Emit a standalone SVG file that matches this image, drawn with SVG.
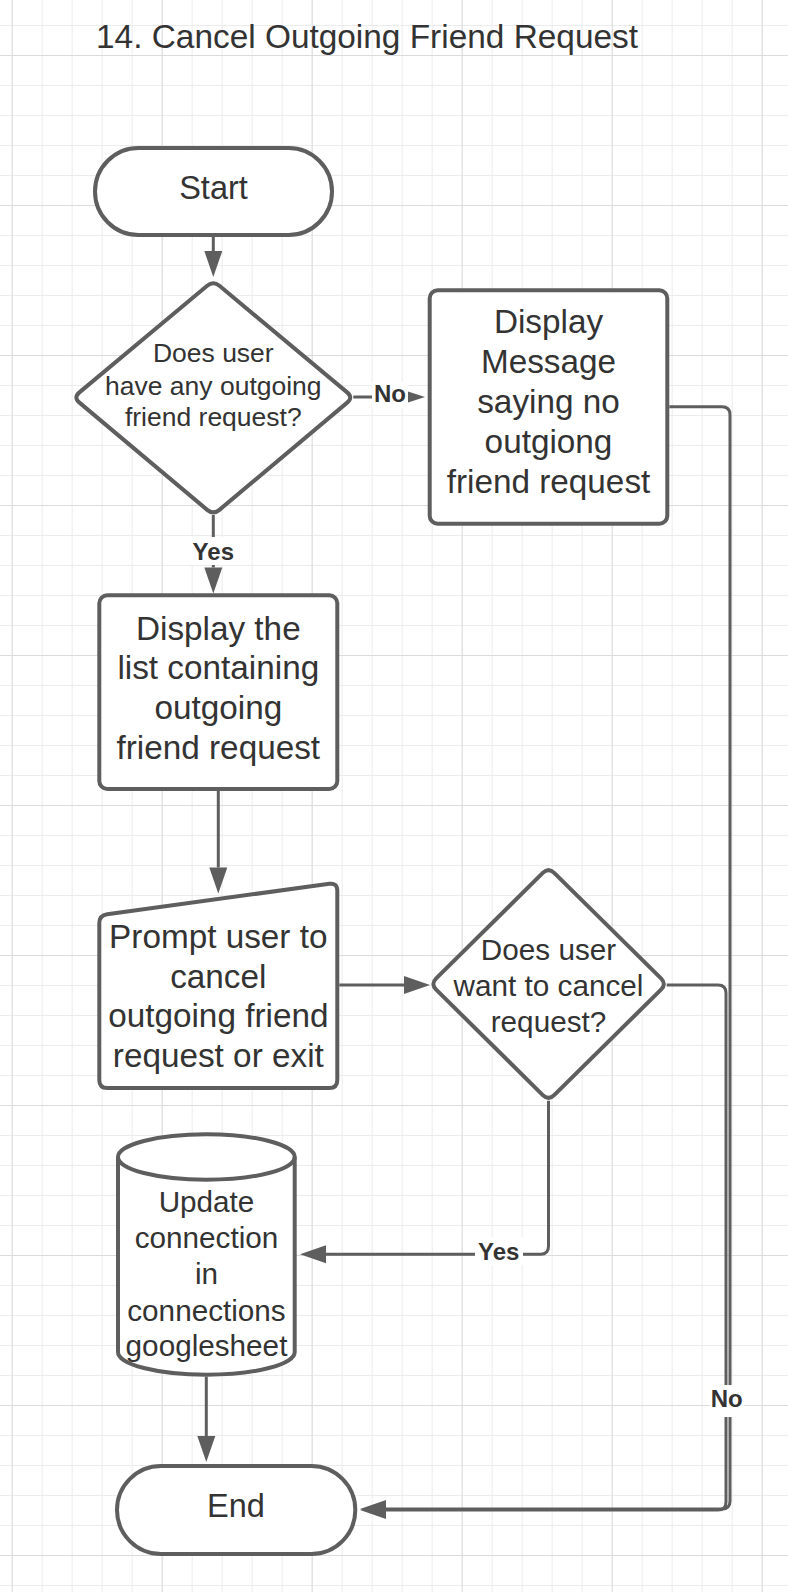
<svg xmlns="http://www.w3.org/2000/svg" width="788" height="1592" viewBox="0 0 788 1592">
<style>
.shape{fill:#ffffff;stroke:#5e5e5e;stroke-width:4;stroke-linejoin:round}
.conn{fill:none;stroke:#5e5e5e;stroke-width:3}
.t{font-family:"Liberation Sans",Arial,sans-serif;fill:#333333;text-anchor:middle}
.lbl{font-family:"Liberation Sans",Arial,sans-serif;font-weight:bold;font-size:24px;fill:#333333;text-anchor:middle}
.lblbg{fill:#ffffff}
</style>
<defs>
<pattern id="minor" patternUnits="userSpaceOnUse" x="11.7" y="25" width="30" height="30">
<path d="M0.5,0 V30 M0,0.5 H30" fill="none" stroke="#ececec" stroke-width="1"/>
</pattern>
<pattern id="major" patternUnits="userSpaceOnUse" x="11.7" y="55" width="150" height="150">
<path d="M0.5,0 V150 M0,0.5 H150" fill="none" stroke="#dcdcdc" stroke-width="1"/>
</pattern>
<marker id="big" markerUnits="userSpaceOnUse" markerWidth="26" markerHeight="18" refX="0" refY="9" orient="auto" overflow="visible">
<path d="M0,0 L26,9 L0,18 Z" fill="#5e5e5e"/>
</marker>
<marker id="small" markerUnits="userSpaceOnUse" markerWidth="17" markerHeight="11" refX="0" refY="5.5" orient="auto" overflow="visible">
<path d="M0,0 L17,5.5 L0,11 Z" fill="#5e5e5e"/>
</marker>
</defs>
<rect width="788" height="1592" fill="#ffffff"/>
<rect width="788" height="1592" fill="url(#minor)"/>
<rect width="788" height="1592" fill="url(#major)"/>

<text x="96" y="48" class="t" style="text-anchor:start;font-size:33.4px">14. Cancel Outgoing Friend Request</text>

<g id="connectors">
<path class="conn" d="M213.3,236.7 L213.3,251" marker-end="url(#big)"/>
<path class="conn" d="M353.3,397 L408,397" marker-end="url(#small)"/>
<path class="conn" d="M213.3,515 L213.3,567.5" marker-end="url(#big)"/>
<path class="conn" d="M218.3,791 L218.3,867.5" marker-end="url(#big)"/>
<path class="conn" d="M339.3,985 L404,985" marker-end="url(#big)"/>
<path class="conn" d="M548.5,1100.7 L548.5,1246.3 Q548.5,1254.3 540.5,1254.3 L326,1254.3" marker-end="url(#big)"/>
<path class="conn" d="M669.3,406.7 L722,406.7 Q730,406.7 730,414.7 L730,1501 Q730,1509 722,1509 L386,1509" marker-end="url(#big)"/>
<path class="conn" d="M666.7,985 L718,985 Q726,985 726,993 L726,1502 Q726,1510 718,1510 L386,1510" marker-end="url(#big)"/>
<path class="conn" d="M206.3,1376.7 L206.3,1436" marker-end="url(#big)"/>
<rect class="lblbg" x="372" y="382" width="36" height="26"/>
<text class="lbl" x="390" y="402">No</text>
<rect class="lblbg" x="189" y="537" width="49" height="28"/>
<text class="lbl" x="213.3" y="560">Yes</text>
<rect class="lblbg" x="475" y="1237" width="48" height="28"/>
<text class="lbl" x="498.7" y="1260">Yes</text>
<rect class="lblbg" x="710" y="1385" width="34" height="32"/>
<text class="lbl" x="726.7" y="1407">No</text>
</g>

<g id="start">
<rect class="shape" x="95" y="148" width="237" height="87" rx="43.5"/>
<text class="t" x="213.5" y="199" style="font-size:32.5px">Start</text>
</g>

<g id="decision-outgoing">
<path class="shape" d="M207.17,285.83 Q213.3,280.7 219.43,285.83 L347.17,392.37 Q353.3,397.5 347.17,402.63 L219.43,509.87 Q213.3,515 207.17,509.87 L79.43,402.63 Q73.3,397.5 79.43,392.37 Z"/>
<text class="t" style="font-size:26.5px" x="213.3"><tspan x="213.3" y="362">Does user</tspan><tspan x="213.3" y="394.5">have any outgoing</tspan><tspan x="213.3" y="426">friend request?</tspan></text>
</g>

<g id="display-message">
<rect class="shape" x="429.7" y="290.3" width="237.6" height="233.4" rx="8"/>
<text class="t" style="font-size:33.3px"><tspan x="548.5" y="333.3">Display</tspan><tspan x="548.5" y="373.3">Message</tspan><tspan x="548.5" y="413.3">saying no</tspan><tspan x="548.5" y="453.3">outgiong</tspan><tspan x="548.5" y="493">friend request</tspan></text>
</g>

<g id="display-list">
<rect class="shape" x="99.3" y="595.3" width="238" height="193.7" rx="8"/>
<text class="t" style="font-size:33.3px"><tspan x="218.3" y="640">Display the</tspan><tspan x="218.3" y="679.3">list containing</tspan><tspan x="218.3" y="718.6">outgoing</tspan><tspan x="218.3" y="758.5">friend request</tspan></text>
</g>

<g id="prompt">
<path class="shape" d="M99.3,1080 L99.3,923.3 Q99.3,915.3 107.2,914.2 L329.4,883.8 Q337.3,882.7 337.3,890.7 L337.3,1080 Q337.3,1088 329.3,1088 L107.3,1088 Q99.3,1088 99.3,1080 Z"/>
<text class="t" style="font-size:33.3px"><tspan x="218.3" y="948.3">Prompt user to</tspan><tspan x="218.3" y="988">cancel</tspan><tspan x="218.3" y="1027">outgoing friend</tspan><tspan x="218.3" y="1066.7">request or exit</tspan></text>
</g>

<g id="decision-cancel">
<path class="shape" d="M542.81,872.92 Q548.5,867.3 554.19,872.92 L661.01,978.38 Q666.7,984 661.01,989.62 L554.19,1095.08 Q548.5,1100.7 542.81,1095.08 L436.19,989.62 Q430.5,984 436.19,978.38 Z"/>
<text class="t" style="font-size:29.7px"><tspan x="548.5" y="960">Does user</tspan><tspan x="548.5" y="995.8">want to cancel</tspan><tspan x="548.5" y="1031.7">request?</tspan></text>
</g>

<g id="update-db">
<path class="shape" d="M118,1157 L118,1352 A88.35,22.7 0 0 0 294.7,1352 L294.7,1157 A88.35,22.7 0 0 0 118,1157 Z"/>
<path class="shape" style="fill:none" d="M118,1157 A88.35,22.7 0 0 0 294.7,1157"/>
<text class="t" style="font-size:29.7px"><tspan x="206.5" y="1211.7">Update</tspan><tspan x="206.5" y="1248">connection</tspan><tspan x="206.5" y="1284.3">in</tspan><tspan x="206.5" y="1320.5">connections</tspan><tspan x="206.5" y="1356">googlesheet</tspan></text>
</g>

<g id="end">
<rect class="shape" x="117" y="1466" width="238.3" height="88" rx="44"/>
<text class="t" x="236" y="1516.7" style="font-size:32.5px">End</text>
</g>
</svg>
